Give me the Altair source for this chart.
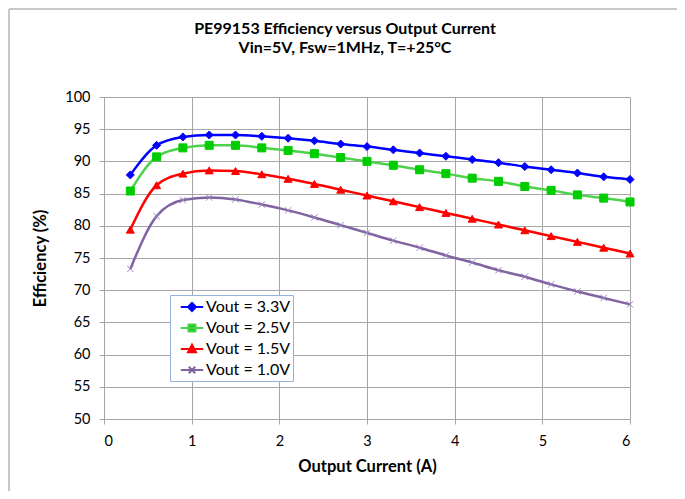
import altair as alt
import pandas as pd

# ---------------- data ----------------
current = [0.3, 0.6, 0.9, 1.2, 1.5, 1.8, 2.1, 2.4, 2.7, 3.0,
           3.3, 3.6, 3.9, 4.2, 4.5, 4.8, 5.1, 5.4, 5.7, 6.0]
series_names = ["Vout = 3.3V", "Vout = 2.5V", "Vout = 1.5V", "Vout = 1.0V"]
eff_33 = [87.9, 92.5, 93.8, 94.1, 94.1, 93.9, 93.6, 93.2, 92.7, 92.3,
          91.8, 91.3, 90.8, 90.3, 89.8, 89.2, 88.7, 88.2, 87.6, 87.2]
eff_25 = [85.4, 90.7, 92.1, 92.5, 92.5, 92.1, 91.7, 91.2, 90.6, 90.0,
          89.4, 88.7, 88.1, 87.4, 86.9, 86.1, 85.5, 84.8, 84.3, 83.7]
eff_15 = [79.4, 86.3, 88.1, 88.6, 88.5, 88.0, 87.3, 86.5, 85.6, 84.7,
          83.8, 82.9, 82.0, 81.1, 80.2, 79.3, 78.4, 77.5, 76.6, 75.7]
eff_10 = [73.3, 81.5, 84.0, 84.4, 84.1, 83.3, 82.4, 81.3, 80.1, 78.9,
          77.7, 76.6, 75.4, 74.3, 73.1, 72.1, 70.9, 69.8, 68.8, 67.8]
x_ticks = [0, 1, 2, 3, 4, 5, 6]
y_ticks = [50, 55, 60, 65, 70, 75, 80, 85, 90, 95, 100]
title_lines = ["PE99153 Efficiency versus Output Current",
               "Vin=5V, Fsw=1MHz, T=+25°C"]

line_colors = ["#0000FF", "#4CD24C", "#FF0000", "#8064A2"]
marker_colors = ["#0000FF", "#00CC00", "#FF0000", "#9B87C2"]
marker_shapes = ["diamond", "square", "triangle-up",
                 "M-0.8,-0.8L0.8,0.8M-0.8,0.8L0.8,-0.8"]
legend_shapes = [
    "M-1.4,0H1.4M-0.5,0L0,-0.5L0.5,0L0,0.5Z",
    "M-1.4,0H1.4M-0.44,-0.44H0.44V0.44H-0.44Z",
    "M-1.4,0H1.4M0,-0.55L0.5,0.4H-0.5Z",
    "M-1.4,0H1.4M-0.4,-0.4L0.4,0.4M-0.4,0.4L0.4,-0.4",
]

rows = []
for name, vals in zip(series_names, [eff_33, eff_25, eff_15, eff_10]):
    for c, v in zip(current, vals):
        rows.append({"current": c, "eff": v, "series": name})
df = pd.DataFrame(rows)

FONT = "Lato"
W, H = 526, 322

x_enc = alt.X("current:Q",
              scale=alt.Scale(domain=[0, 6], nice=False, zero=False),
              axis=alt.Axis(values=x_ticks, title="Output Current (A)",
                            labelPadding=10, titlePadding=11, format="d"))
y_enc = alt.Y("eff:Q",
              scale=alt.Scale(domain=[50, 100], nice=False, zero=False),
              axis=alt.Axis(values=y_ticks, title="Efficiency (%)",
                            labelPadding=9, titlePadding=16, format="d"))

base = alt.Chart(df)

lines = base.mark_line(interpolate="monotone", strokeWidth=2.5).encode(
    x=x_enc, y=y_enc,
    color=alt.Color("series:N", scale=alt.Scale(domain=series_names, range=line_colors),
                    legend=None),
)

points = base.mark_point(filled=True, opacity=1, size=64, strokeWidth=1).encode(
    x=x_enc, y=y_enc,
    fill=alt.Fill("series:N", scale=alt.Scale(domain=series_names, range=marker_colors),
                  legend=None),
    stroke=alt.Stroke("series:N", scale=alt.Scale(domain=series_names, range=marker_colors),
                      legend=None),
    shape=alt.Shape("series:N", scale=alt.Scale(domain=series_names, range=marker_shapes),
                    legend=None),
)

leg_def = alt.Legend(title=None, orient="none", legendX=66, legendY=198,
                     padding=3, symbolSize=256, symbolStrokeWidth=2,
                     symbolOffset=10, labelOffset=5, rowPadding=4,
                     labelFont=FONT, labelFontSize=16, labelColor="black",
                     strokeColor="#95B3D7", fillColor="white",
                     symbolOpacity=1, labelLimit=300)

legend_layer = base.transform_filter("false").mark_point(
    filled=True, opacity=1, size=256, strokeWidth=2).encode(
    x=x_enc, y=y_enc,
    fill=alt.Fill("series:N", scale=alt.Scale(domain=series_names, range=marker_colors),
                  legend=leg_def),
    stroke=alt.Stroke("series:N", scale=alt.Scale(domain=series_names, range=line_colors),
                      legend=leg_def),
    shape=alt.Shape("series:N", scale=alt.Scale(domain=series_names, range=legend_shapes),
                    legend=leg_def),
)

# chart-area border (top and left edges visible in the reference)
frame_df = pd.DataFrame({"k": [0]})
border_top = alt.Chart(frame_df).mark_rule(color="#C8C8C8", strokeWidth=2).encode(
    x=alt.value(-95), x2=alt.value(W + 47), y=alt.value(-88))
border_left = alt.Chart(frame_df).mark_rule(color="#C8C8C8", strokeWidth=2).encode(
    x=alt.value(-95), y=alt.value(-88), y2=alt.value(H + 72))

chart = alt.layer(lines, points, legend_layer, border_top, border_left).resolve_scale(
    color="independent", fill="independent", stroke="independent", shape="independent"
).properties(
    width=W, height=H,
    autosize=alt.AutoSizeParams(type="none"),
    padding={"left": 96, "top": 89, "right": 47, "bottom": 72},
    title=alt.TitleParams(text=title_lines, font=FONT, fontSize=16, fontWeight="bold",
                          color="black", anchor="middle", frame="group", dx=-22,
                          offset=-48, lineHeight=19),
).configure_view(stroke=None).configure_axis(
    labelFont=FONT, labelFontSize=14.5, labelColor="black",
    titleFont=FONT, titleFontSize=16.5, titleFontWeight="bold", titleColor="black",
    gridColor="#A6A6A6", gridWidth=1, domainColor="#A6A6A6", tickColor="#A6A6A6",
    tickSize=5,
)

chart.save("out.html", embed_options={"renderer": "svg", "actions": False})
